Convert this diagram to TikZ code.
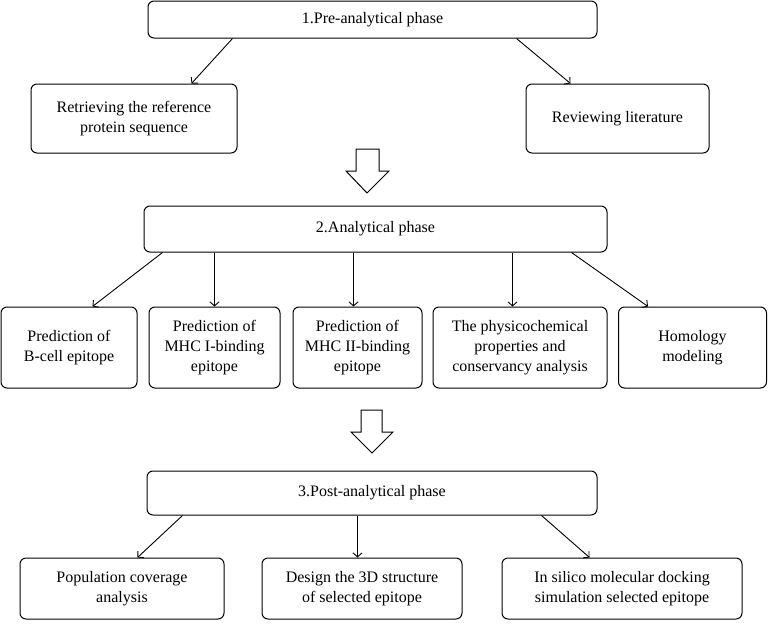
\documentclass[tikz,border=0pt]{standalone}
\usepackage{fontspec}
\setmainfont{Liberation Serif}
\usetikzlibrary{arrows.meta,calc}
\tikzset{
  box/.style={draw, line width=1pt, rounded corners=6pt, inner sep=0pt, align=center, font=\fontsize{16}{20}\selectfont},
  conn/.style={line width=0.9pt, -{Straight Barb[length=4pt,width=9pt]}},
  bigarrow/.style={draw, line width=1pt, fill=white, line join=miter}
}
\begin{document}
\begin{tikzpicture}[x=1pt,y=-1pt]
\useasboundingbox (0,0) rectangle (768,629);
% phase 1
\node[box, minimum width=449pt, minimum height=37pt] (p1) at (372.5,19.5) {1.Pre-analytical phase};
\node[box, minimum width=206pt, minimum height=69pt] (retr) at (134,118.5) {Retrieving the reference\\protein sequence};
\node[box, minimum width=183pt, minimum height=69pt] (rev) at (617.5,118.5) {Reviewing literature};
\draw[conn] ($(p1.south west)+(85,0)$) -- ($(retr.north west)+(161,0)$);
\draw[conn] ($(p1.south west)+(369,0)$) -- ($(rev.north west)+(45,0)$);
% hollow arrow 1
\draw[bigarrow] (356,149) -- (379,149) -- (379,171) -- (389,171) -- (367,193) -- (346,171) -- (356,171) -- cycle;
% phase 2
\node[box, minimum width=463pt, minimum height=46pt] (p2) at (375.5,229) {2.Analytical phase};
\node[box, minimum width=136pt, minimum height=81pt] (bcell) at (69,347.5) {Prediction of\\B-cell epitope};
\node[box, minimum width=131pt, minimum height=81pt] (mhc1) at (214.5,347.5) {Prediction of\\MHC I-binding\\epitope};
\node[box, minimum width=129pt, minimum height=81pt] (mhc2) at (357.5,347.5) {Prediction of\\MHC II-binding\\epitope};
\node[box, minimum width=174pt, minimum height=81pt] (phys) at (520,347.5) {The physicochemical\\properties and\\conservancy analysis};
\node[box, minimum width=148pt, minimum height=81pt] (hom) at (692.5,347.5) {Homology\\modeling};
\draw[conn] ($(p2.south west)+(19,0)$) -- ($(bcell.north west)+(92,0)$);
\draw[conn] ($(p2.south west)+(71,0)$) -- ($(mhc1.north west)+(66,0)$);
\draw[conn] ($(p2.south west)+(210,0)$) -- ($(mhc2.north west)+(61,0)$);
\draw[conn] ($(p2.south west)+(369,0)$) -- ($(phys.north west)+(80,0)$);
\draw[conn] ($(p2.south west)+(428,0)$) -- ($(hom.north west)+(30,0)$);
% hollow arrow 2
\draw[bigarrow] (361,410) -- (382,410) -- (382,432) -- (393,432) -- (372,453) -- (351,432) -- (361,432) -- cycle;
% phase 3
\node[box, minimum width=450pt, minimum height=44pt] (p3) at (372,493) {3.Post-analytical phase};
\node[box, minimum width=204pt, minimum height=61pt] (pop) at (122,588.5) {Population coverage\\analysis};
\node[box, minimum width=200pt, minimum height=61pt] (des) at (362,588.5) {Design the 3D structure\\of selected epitope};
\node[box, minimum width=240pt, minimum height=61pt] (ins) at (622,588.5) {In silico molecular docking\\simulation selected epitope};
\draw[conn] ($(p3.south west)+(36,0)$) -- ($(pop.north west)+(118,0)$);
\draw[conn] ($(p3.south west)+(211,0)$) -- ($(des.north west)+(96,0)$);
\draw[conn] ($(p3.south west)+(395,0)$) -- ($(ins.north west)+(88,0)$);
\end{tikzpicture}
\end{document}
